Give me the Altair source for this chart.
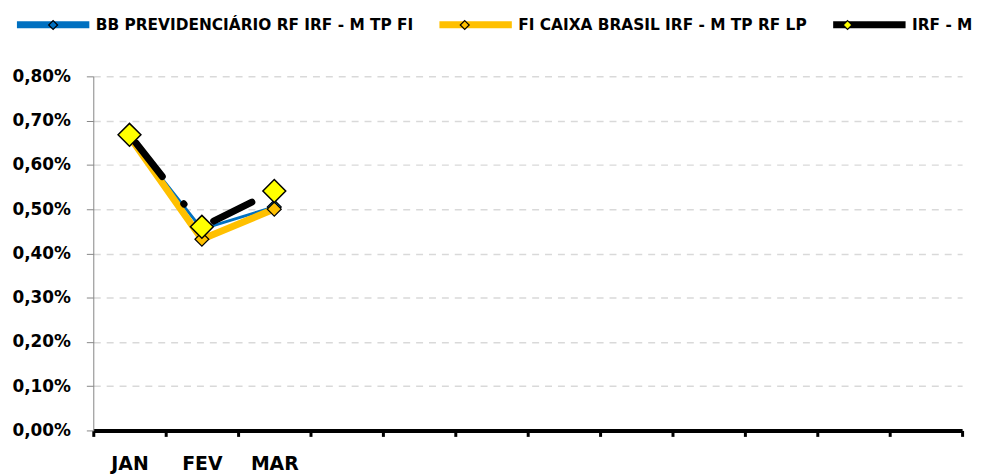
import altair as alt
import pandas as pd

# ---- data ----
months = ["JAN", "FEV", "MAR", "ABR", "MAI", "JUN", "JUL", "AGO", "SET", "OUT", "NOV", "DEZ"]
labeled_months = ["JAN", "FEV", "MAR"]
series = ["BB PREVIDENCIÁRIO RF IRF - M TP FI", "FI CAIXA BRASIL IRF - M TP RF LP", "IRF - M"]
bb_values = [0.00662, 0.00455, 0.00505]
caixa_values = [0.00664, 0.00432, 0.00500]
irfm_values = [0.00668, 0.00460, 0.00541]
y_ticks = [0.0, 0.001, 0.002, 0.003, 0.004, 0.005, 0.006, 0.007, 0.008]

line_colors = ["#0070C0", "#FFC000", "#000000"]
marker_colors = ["#0070C0", "#FFC000", "#FFFF00"]

rows = []
for name, vals in zip(series, [bb_values, caixa_values, irfm_values]):
    for m, v in zip(labeled_months, vals):
        rows.append({"mes": m, "serie": name, "serie_m": name, "valor": v})
df = pd.DataFrame(rows)

FONT = "DejaVu Sans"

x_enc = alt.X(
    "mes:N",
    scale=alt.Scale(domain=months, paddingInner=0, paddingOuter=0),
    axis=alt.Axis(
        title=None,
        labelExpr="indexof(" + str(labeled_months) + ", datum.value) >= 0 ? datum.value : ''",
        labelAngle=0,
        labelFont=FONT,
        labelFontSize=19,
        labelFontWeight="bold",
        labelColor="#000000",
        labelPadding=18,
        labelBaseline="top",
        tickBand="extent",
        ticks=True,
        tickSize=6,
        tickWidth=3,
        tickColor="#000000",
        domainColor="#000000",
        domainWidth=4,
        grid=False,
    ),
)

y_enc = alt.Y(
    "valor:Q",
    scale=alt.Scale(domain=[0, 0.008], nice=False),
    axis=alt.Axis(
        title=None,
        values=y_ticks,
        labelExpr="replace(format(datum.value, '.2%'), '.', ',')",
        labelFont=FONT,
        labelFontSize=17,
        labelFontWeight="bold",
        labelColor="#000000",
        labelPadding=16,
        tickSize=7,
        tickColor="#868686",
        tickWidth=1,
        domainColor="#868686",
        domainWidth=1,
        grid=True,
        gridColor="#D9D9D9",
        gridDash=[7, 6],
        gridWidth=1.5,
    ),
)

legend_common = dict(
    title=None,
    orient="none",
    legendX=-80.5,
    legendY=-92,
    direction="horizontal",
    columns=3,
    labelFont=FONT,
    labelFontSize=15.5,
    labelFontWeight="bold",
    labelOffset=3,
    labelLimit=0,
    columnPadding=11,
    padding=0,
)

# line legend: 73px bar, stroke 7 -> entry size 80
stroke_enc = alt.Stroke(
    "serie:N",
    scale=alt.Scale(domain=series, range=line_colors),
    legend=alt.Legend(
        symbolType="stroke",
        symbolSize=5329,
        symbolStrokeWidth=7,
        symbolDash=[1, 0],
        labelColor="#000000",
        zindex=0,
        **legend_common,
    ),
)

# marker legend: same entry size (78.5 + 1.2 -> 80) so both legends line up
fill_enc = alt.Fill(
    "serie_m:N",
    sort=series,
    scale=alt.Scale(range=marker_colors),
    legend=alt.Legend(
        symbolType="M0,-0.115L0.115,0L0,0.115L-0.115,0Z",
        symbolSize=6162.25,
        symbolStrokeColor="#000000",
        symbolStrokeWidth=1.2,
        symbolOpacity=1,
        labelOpacity=0,
        zindex=1,
        **legend_common,
    ),
)

base = alt.Chart(df)


def only(name):
    return base.transform_filter(alt.datum.serie == name)


line_bb = only(series[0]).mark_line(strokeWidth=3).encode(x=x_enc, y=y_enc, stroke=stroke_enc)
pt_bb = only(series[0]).mark_point(
    shape="diamond", filled=True, size=196, stroke="#000000", strokeWidth=1.2, opacity=1
).encode(x=x_enc, y=y_enc, fill=fill_enc)

line_cx = only(series[1]).mark_line(strokeWidth=7).encode(x=x_enc, y=y_enc, stroke=stroke_enc)
pt_cx = only(series[1]).mark_point(
    shape="diamond", filled=True, size=196, stroke="#000000", strokeWidth=1.2, opacity=1
).encode(x=x_enc, y=y_enc, fill=fill_enc)

line_ir = only(series[2]).mark_line(
    strokeWidth=7, strokeDash=[43, 35, 0.5, 42.3], strokeDashOffset=110.3, strokeCap="round"
).encode(x=x_enc, y=y_enc, stroke=stroke_enc)
pt_ir = only(series[2]).mark_point(
    shape="diamond", filled=True, size=530, stroke="#000000", strokeWidth=1.5, opacity=1
).encode(x=x_enc, y=y_enc, fill=fill_enc)

chart = (
    alt.layer(line_bb, pt_bb, line_cx, pt_cx, line_ir, pt_ir)
    .properties(
        width=876,
        height=357,
        autosize=alt.AutoSizeParams(type="none"),
        padding={"left": 86, "top": 67, "right": 12, "bottom": 42},
        background="#FFFFFF",
    )
    .configure_view(stroke=None)
)

chart.save("out.html", embed_options={"renderer": "svg", "actions": False})
